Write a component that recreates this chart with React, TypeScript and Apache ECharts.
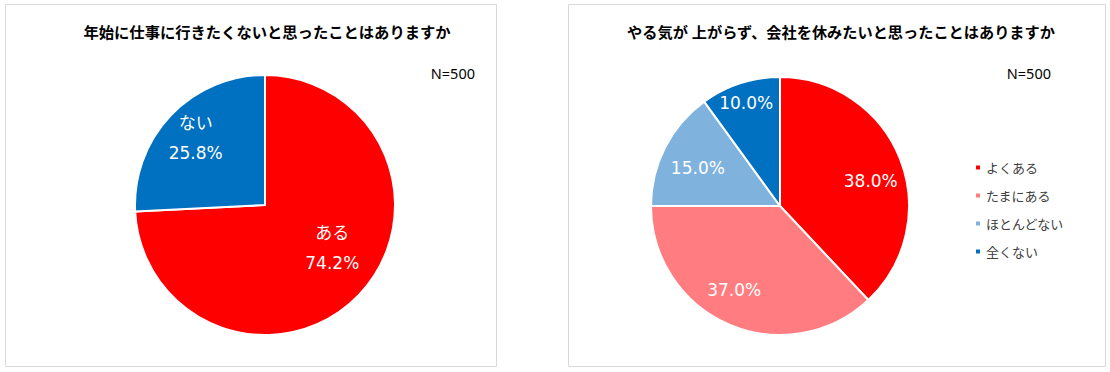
import React, { useEffect, useRef } from "react";
import * as echarts from "echarts";

const leftTitle = "年始に仕事に行きたくないと思ったことはありますか";
const rightTitle = "やる気が 上がらず、会社を休みたいと思ったことはありますか";
const sampleLabel = "N=500";

const leftCategories = ["ある", "ない"];
const leftValues = [74.2, 25.8];
const leftColors = ["#FF0000", "#0070C0"];
const leftLabelOffsets = [[18, -4], [-20, -20]];

const rightCategories = ["よくある", "たまにある", "ほとんどない", "全くない"];
const rightValues = [38.0, 37.0, 15.0, 10.0];
const rightColors = ["#FF0000", "#FF7C80", "#7FB3DD", "#0070C0"];
const rightLabelOffsets = [[28, 0], [-19, 22], [-22, -7], [-13, -39]];

const FONT = "'Noto Sans', 'Noto Sans CJK JP', sans-serif";
const LABEL_FONT = "'DejaVu Sans', 'Noto Sans CJK JP', sans-serif";

export default function App() {
  const ref = useRef<HTMLDivElement>(null);
  useEffect(() => {
    document.body.style.margin = "0";
    const chart = echarts.init(ref.current!, null, { renderer: "svg" });
    chart.setOption({
      animation: false,
      backgroundColor: "#FFFFFF",
      title: [
        {
          text: leftTitle,
          left: 262,
          top: 19,
          textAlign: "center",
          textStyle: { fontFamily: FONT, fontSize: 15.3, fontWeight: "bold", color: "#000" },
        },
        {
          text: rightTitle,
          left: 836,
          top: 19,
          textAlign: "center",
          textStyle: { fontFamily: FONT, fontSize: 15.2, fontWeight: "bold", color: "#000" },
        },
      ],
      legend: {
        data: rightCategories,
        orient: "vertical",
        left: 969,
        top: 156,
        itemWidth: 6,
        itemHeight: 6,
        itemGap: 15,
        icon: "rect",
        textStyle: { fontFamily: FONT, fontSize: 13, color: "#404040" },
        selectedMode: false,
      },
      graphic: [
        {
          type: "rect",
          shape: { x: 5.5, y: 4.5, width: 491, height: 362 },
          style: { fill: "none", stroke: "#D9D9D9", lineWidth: 1 },
          silent: true,
        },
        {
          type: "rect",
          shape: { x: 568.5, y: 4.5, width: 537, height: 362 },
          style: { fill: "none", stroke: "#D9D9D9", lineWidth: 1 },
          silent: true,
        },
        {
          type: "text",
          x: 475,
          y: 66,
          style: { text: sampleLabel, fontFamily: FONT, fontSize: 14.5, fill: "#000", textAlign: "right" },
        },
        {
          type: "text",
          x: 1051,
          y: 66,
          style: { text: sampleLabel, fontFamily: FONT, fontSize: 14.5, fill: "#000", textAlign: "right" },
        },
      ],
      series: [
        {
          type: "pie",
          center: [265, 205],
          radius: [0, 130],
          startAngle: 90,
          clockwise: true,
          itemStyle: { borderColor: "#FFFFFF", borderWidth: 2 },
          label: {
            show: true,
            position: "inside",
            color: "#FFFFFF",
            fontFamily: LABEL_FONT,
            fontSize: 17,
            lineHeight: 30,
            formatter: (p: any) => `${p.name}\n${Number(p.value).toFixed(1)}%`,
          },
          labelLayout: (p: any) => ({ dx: leftLabelOffsets[p.dataIndex][0], dy: leftLabelOffsets[p.dataIndex][1] }),
          emphasis: { disabled: true },
          data: leftCategories.map((n, i) => ({ name: n, value: leftValues[i], itemStyle: { color: leftColors[i] } })),
        },
        {
          type: "pie",
          center: [780, 206],
          radius: [0, 129],
          startAngle: 90,
          clockwise: true,
          itemStyle: { borderColor: "#FFFFFF", borderWidth: 2 },
          label: {
            show: true,
            position: "inside",
            color: "#FFFFFF",
            fontFamily: LABEL_FONT,
            fontSize: 17,
            formatter: (p: any) => `${Number(p.value).toFixed(1)}%`,
          },
          labelLayout: (p: any) => ({ dx: rightLabelOffsets[p.dataIndex][0], dy: rightLabelOffsets[p.dataIndex][1] }),
          emphasis: { disabled: true },
          data: rightCategories.map((n, i) => ({ name: n, value: rightValues[i], itemStyle: { color: rightColors[i] } })),
        },
      ],
    });
    return () => chart.dispose();
  }, []);
  return <div ref={ref} style={{ width: 1110, height: 372 }} />;
}
